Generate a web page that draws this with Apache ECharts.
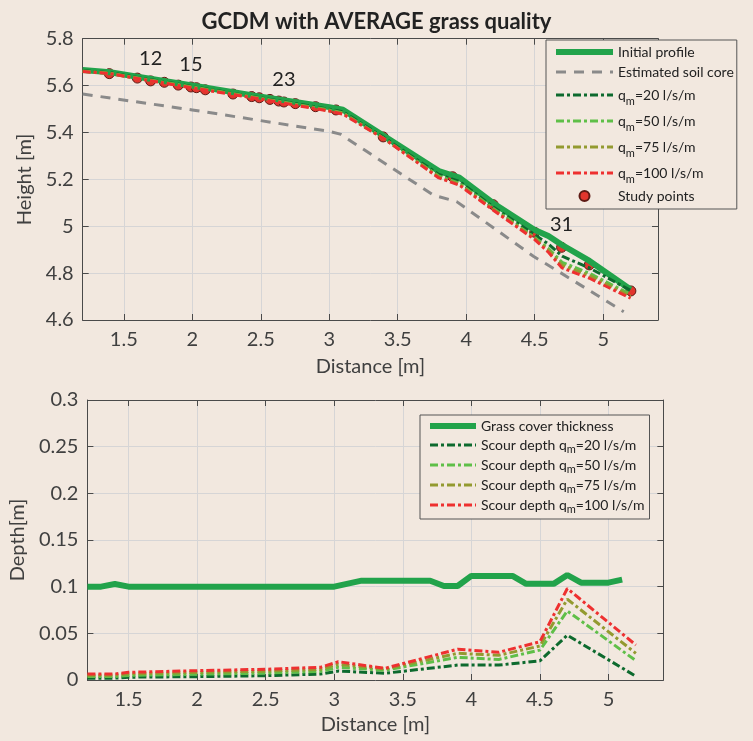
<!DOCTYPE html>
<html><head><meta charset="utf-8">
<script src="https://cdn.jsdelivr.net/npm/echarts@6/dist/echarts.min.js"></script>
<style>html,body{margin:0;padding:0;background:#f2e8df}#c{width:753px;height:741px}</style>
</head><body><div id="c"></div>
<script>
// ---------- data ----------
const xTicks = [1.5, 2, 2.5, 3, 3.5, 4, 4.5, 5];

// top panel: profiles
const profileX = [1.2, 1.4, 1.6, 2.0, 2.5, 3.0, 3.1, 3.4, 3.8, 3.95, 4.2, 4.5, 4.6, 4.7, 4.9, 5.2];
const profileY = [5.666, 5.657, 5.638, 5.600, 5.553, 5.508, 5.497, 5.385, 5.235, 5.207, 5.097, 4.984, 4.958, 4.920, 4.852, 4.730];
const top20  = [5.664, 5.655, 5.635, 5.596, 5.548, 5.499, 5.488, 5.378, 5.221, 5.191, 5.081, 4.964, 4.924, 4.872, 4.822, 4.726];
const top50  = [5.662, 5.653, 5.633, 5.594, 5.546, 5.496, 5.484, 5.374, 5.214, 5.183, 5.075, 4.952, 4.905, 4.846, 4.799, 4.709];
const top75  = [5.661, 5.652, 5.631, 5.592, 5.544, 5.493, 5.481, 5.373, 5.210, 5.179, 5.071, 4.948, 4.897, 4.834, 4.789, 4.701];
const top100 = [5.660, 5.651, 5.630, 5.590, 5.542, 5.491, 5.478, 5.373, 5.206, 5.175, 5.067, 4.943, 4.889, 4.822, 4.778, 4.693];

const soilX = [1.2, 2.0, 3.0, 3.08, 3.76, 3.93, 4.49, 4.66, 5.15];
const soilY = [5.564, 5.496, 5.405, 5.393, 5.133, 5.105, 4.872, 4.812, 4.635];

const studyFirstId = 10;
const studyX = [1.394, 1.599, 1.696, 1.796, 1.898, 1.99, 2.03, 2.095, 2.297, 2.434, 2.489, 2.567, 2.631, 2.669, 2.752, 2.90, 3.049, 3.394, 3.90, 4.197, 4.50, 4.696, 4.898, 5.202];
const studyY = [5.651, 5.632, 5.620, 5.614, 5.602, 5.594, 5.591, 5.582, 5.564, 5.553, 5.548, 5.541, 5.534, 5.530, 5.523, 5.510, 5.496, 5.381, 5.211, 5.092, 4.974, 4.910, 4.835, 4.724];
const labeledIds = [12, 15, 23, 31];

// bottom panel: depths
const grassX = [1.2, 1.3, 1.4, 1.5, 3.0, 3.2, 3.7, 3.8, 3.9, 4.0, 4.3, 4.4, 4.6, 4.7, 4.8, 5.0, 5.1];
const grassY = [0.100, 0.100, 0.1029, 0.100, 0.100, 0.1064, 0.1064, 0.1007, 0.1007, 0.1115, 0.1115, 0.103, 0.103, 0.1125, 0.1043, 0.1043, 0.1075];

const scourX   = [1.2, 1.4, 1.5, 2.0, 2.5, 2.9, 3.03, 3.37, 3.9, 4.2, 4.5, 4.7, 5.2];
const scour20  = [0.002, 0.002, 0.003, 0.0036, 0.0046, 0.0064, 0.0096, 0.0072, 0.016, 0.016, 0.0205, 0.048, 0.004];
const scour50  = [0.0038, 0.0038, 0.0049, 0.0062, 0.0074, 0.0093, 0.0136, 0.0105, 0.0243, 0.022, 0.032, 0.074, 0.0207];
const scour75  = [0.0052, 0.0052, 0.0066, 0.0081, 0.0095, 0.0115, 0.0168, 0.0118, 0.0286, 0.0265, 0.0364, 0.0865, 0.0286];
const scour100 = [0.0065, 0.0065, 0.0082, 0.010, 0.0115, 0.0136, 0.0196, 0.0125, 0.033, 0.0297, 0.041, 0.098, 0.0375];

// ---------- styling ----------
const BG = '#f2e8df', AX = '#4a4a4a', TXT = '#404040', GRIDC = '#d6d5d6';
const C_INIT = '#22a34b', C_SOIL = '#8a8a8a', C20 = '#0d6a2e', C50 = '#5fbf48', C75 = '#939a30', C100 = '#ee3030';
const DASHDOT = [8, 3, 3, 3];
const FONT = 'Lato';

const pairs = (xs, ys) => xs.map((x, i) => [x, ys[i]]);

function xAx(gridIndex, pos, main) {
  return {
    type: 'value', gridIndex, position: pos, min: 1.2, max: 5.4,
    axisLine: { show: true, onZero: false, lineStyle: { color: AX, width: 1 } },
    axisTick: { show: true, inside: true, length: 6, customValues: xTicks, lineStyle: { color: AX } },
    axisLabel: { show: main, customValues: xTicks, margin: 10, fontSize: 20, color: TXT, fontFamily: FONT },
    splitLine: { show: main, lineStyle: { color: GRIDC, width: 1 } },
    name: main ? 'Distance [m]' : '', nameLocation: 'middle', nameGap: gridIndex === 0 ? 37 : 35,
    nameTextStyle: { fontSize: 20, color: TXT, fontFamily: FONT }
  };
}
function yAx(gridIndex, pos, main, min, max, interval, name, gap) {
  return {
    type: 'value', gridIndex, position: pos, min, max, interval,
    axisLine: { show: true, onZero: false, lineStyle: { color: AX, width: 1 } },
    axisTick: { show: true, inside: true, length: 6, lineStyle: { color: AX } },
    axisLabel: { show: main, margin: 9, fontSize: 20, color: TXT, fontFamily: FONT },
    splitLine: { show: main, lineStyle: { color: GRIDC, width: 1 } },
    name: main ? name : '', nameLocation: 'middle', nameGap: gap,
    nameTextStyle: { fontSize: 20, color: TXT, fontFamily: FONT }
  };
}
function lineS(name, data, xi, color, width, type) {
  return {
    name, type: 'line', xAxisIndex: xi, yAxisIndex: xi, data, symbol: 'none', showSymbol: false,
    animation: false, clip: true,
    lineStyle: { color, width, type }, itemStyle: { color }
  };
}

const subRich = {
  s: { fontSize: 11, lineHeight: 11, verticalAlign: 'bottom', fontFamily: FONT, color: '#222' }
};
const topNames = {
  'Initial profile': 'Initial profile',
  'Estimated soil core': 'Estimated soil core',
  't20': 'q{s|m}=20 l/s/m',
  't50': 'q{s|m}=50 l/s/m',
  't75': 'q{s|m}=75 l/s/m',
  't100': 'q{s|m}=100 l/s/m',
  'Study points': 'Study points'
};
const botNames = {
  'Grass cover thickness': 'Grass cover thickness',
  'b20': 'Scour depth q{s|m}=20 l/s/m',
  'b50': 'Scour depth q{s|m}=50 l/s/m',
  'b75': 'Scour depth q{s|m}=75 l/s/m',
  'b100': 'Scour depth q{s|m}=100 l/s/m'
};
const hideSym = { opacity: 0 };

const option = {
  backgroundColor: BG,
  animation: false,
  textStyle: { fontFamily: FONT },
  title: {
    text: 'GCDM with AVERAGE grass quality', left: 'center', top: 6,
    textStyle: { fontSize: 22, fontWeight: 'bold', color: '#222', fontFamily: FONT }
  },
  grid: [
    { left: 82.7, right: 95, top: 38.7, height: 281.3, containLabel: false },
    { left: 87.3, right: 89.7, top: 400, height: 280, containLabel: false }
  ],
  xAxis: [xAx(0, 'bottom', true), xAx(0, 'top', false), xAx(1, 'bottom', true), xAx(1, 'top', false)],
  yAxis: [
    yAx(0, 'left', true, 4.6, 5.8, 0.2, 'Height [m]', 40),
    yAx(0, 'right', false, 4.6, 5.8, 0.2, '', 0),
    yAx(1, 'left', true, 0, 0.3, 0.05, 'Depth[m]', 52),
    yAx(1, 'right', false, 0, 0.3, 0.05, '', 0)
  ],
  legend: [
    {
      left: 546, top: 40, orient: 'vertical', itemGap: 2, itemWidth: 57, itemHeight: 10,
      padding: [3, 3, 4, 7], borderColor: '#555', borderWidth: 1, backgroundColor: BG,
      selectedMode: false,
      lineStyle: { width: 'inherit' },
      data: [
        { name: 'Initial profile', textStyle: { lineHeight: 18 }, itemStyle: hideSym },
        { name: 'Estimated soil core', textStyle: { lineHeight: 18 }, itemStyle: hideSym },
        { name: 't20', itemStyle: hideSym }, { name: 't50', itemStyle: hideSym },
        { name: 't75', itemStyle: hideSym }, { name: 't100', itemStyle: hideSym },
        { name: 'Study points', textStyle: { lineHeight: 18 } }
      ],
      formatter: n => topNames[n],
      textStyle: { fontSize: 14, lineHeight: 24, color: '#222', fontFamily: FONT, rich: subRich }
    },
    {
      left: 420, top: 415, orient: 'vertical', itemGap: 0, itemWidth: 46, itemHeight: 10,
      padding: [2, 5, 4, 7], borderColor: '#555', borderWidth: 1, backgroundColor: BG,
      selectedMode: false,
      lineStyle: { width: 'inherit' },
      data: [
        { name: 'Grass cover thickness', textStyle: { lineHeight: 18 }, itemStyle: hideSym },
        { name: 'b20', itemStyle: hideSym }, { name: 'b50', itemStyle: hideSym },
        { name: 'b75', itemStyle: hideSym }, { name: 'b100', itemStyle: hideSym }
      ],
      formatter: n => botNames[n],
      textStyle: { fontSize: 14, lineHeight: 20, color: '#222', fontFamily: FONT, rich: subRich }
    }
  ],
  series: [
    lineS('Initial profile', pairs(profileX, profileY), 0, C_INIT, 6, 'solid'),
    lineS('Estimated soil core', pairs(soilX, soilY), 0, C_SOIL, 3, [10, 8]),
    lineS('t20', pairs(profileX, top20), 0, C20, 3, DASHDOT),
    lineS('t50', pairs(profileX, top50), 0, C50, 3, DASHDOT),
    lineS('t75', pairs(profileX, top75), 0, C75, 3, DASHDOT),
    lineS('t100', pairs(profileX, top100), 0, C100, 3, DASHDOT),
    {
      name: 'Study points', type: 'scatter', xAxisIndex: 0, yAxisIndex: 0, animation: false,
      symbol: 'circle', symbolSize: 10,
      itemStyle: { color: '#e2352d', borderColor: '#5e1a14', borderWidth: 1, opacity: 1 },
      data: studyX.map((x, i) => ({
        value: [x, studyY[i]],
        label: { show: labeledIds.includes(studyFirstId + i) }
      })),
      label: {
        position: 'top', distance: 7, fontSize: 20, color: '#222', fontFamily: FONT,
        formatter: p => String(studyFirstId + p.dataIndex)
      },
      emphasis: { disabled: true }
    },
    lineS('Grass cover thickness', pairs(grassX, grassY), 2, C_INIT, 6, 'solid'),
    lineS('b20', pairs(scourX, scour20), 2, C20, 3, DASHDOT),
    lineS('b50', pairs(scourX, scour50), 2, C50, 3, DASHDOT),
    lineS('b75', pairs(scourX, scour75), 2, C75, 3, DASHDOT),
    lineS('b100', pairs(scourX, scour100), 2, C100, 3, DASHDOT)
  ]
};

const chart = echarts.init(document.getElementById('c'), null, { renderer: 'canvas' });
chart.setOption(option);
</script></body></html>
